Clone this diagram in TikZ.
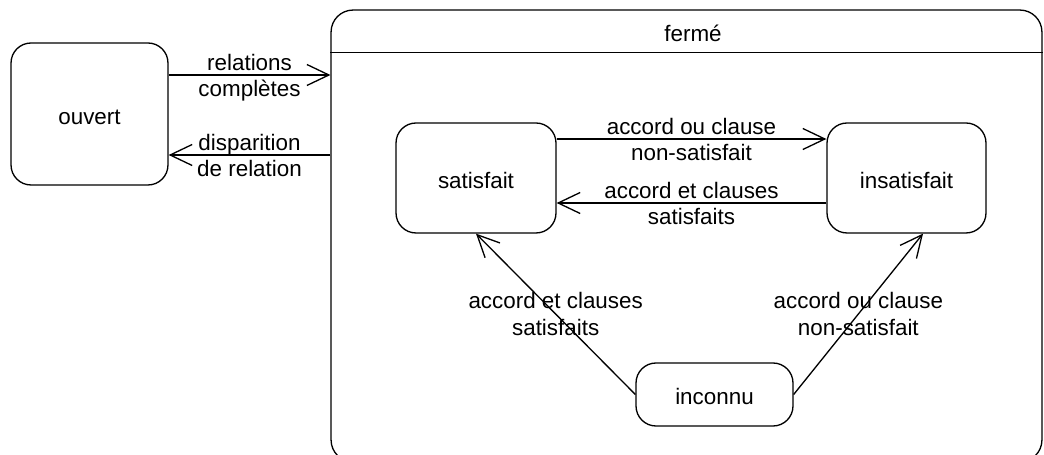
\documentclass[tikz,border=0pt]{standalone}
\usepackage{fontspec}
\setmainfont{Liberation Sans}
\usetikzlibrary{arrows.meta,calc}
\begin{document}
\begin{tikzpicture}[x=0.02cm,y=-0.02cm,line width=0.75pt,
  font=\fontsize{12.75}{15.3}\selectfont,
  state/.style={draw,rounded corners=0.4cm,inner sep=0pt,text height=0.42cm,text depth=0pt},
  arr/.style={-{Straight Barb[length=0.44cm,width=0.42cm]}},
  lbl/.style={align=center,inner sep=0pt},
  labup/.style={anchor=base,inner sep=0pt,yshift=0.09cm},
  labdown/.style={anchor=base,inner sep=0pt,yshift=-0.44cm}]
\useasboundingbox (0,0) rectangle (1044,455);
% etats
\node[state,minimum width=3.14cm,minimum height=2.84cm] (ouvert) at (89.5,114) {ouvert};
\node[draw,rounded corners=0.44cm,inner sep=0pt,minimum width=14.22cm,minimum height=9.04cm] (ferme) at (686.5,236) {};
\node[anchor=base] (titre) at (693,42) {fermé};
\draw ($(ferme.north west)+(0,43)$) -- ($(ferme.north east)+(0,43)$);
\node[state,minimum width=3.2cm,minimum height=2.2cm] (satisfait) at (476,178) {satisfait};
\node[state,minimum width=3.18cm,minimum height=2.2cm] (insatisfait) at (906.5,178) {insatisfait};
\node[state,minimum width=3.14cm,minimum height=1.26cm] (inconnu) at (714.5,394.5) {inconnu};
\coordinate (o1) at ($(ouvert.east)+(0,-39)$);
\coordinate (o2) at ($(ouvert.east)+(0,41)$);
\coordinate (s1) at ($(satisfait.east)+(0,-39)$);
\coordinate (s2) at ($(satisfait.east)+(0,25)$);
\draw[arr] (o1) -- (o1 -| ferme.west)
  node[labup,midway] {relations} node[labdown,midway] {complètes};
\draw[arr] (o2 -| ferme.west) -- (o2)
  node[labup,midway] {disparition} node[labdown,midway] {de relation};
\draw[arr] (s1) -- (s1 -| insatisfait.west)
  node[labup,midway] {accord ou clause} node[labdown,midway] {non-satisfait};
\draw[arr] (s2 -| insatisfait.west) -- (s2)
  node[labup,midway] {accord et clauses} node[labdown,midway] {satisfaits};
\draw[arr] (inconnu.west) -- (satisfait.south)
  node[lbl,midway] {accord et clauses\\satisfaits};
\draw[arr] (inconnu.east) -- ($(insatisfait.south)+(16.5,0)$)
  node[lbl,midway] {accord ou clause\\non-satisfait};
\end{tikzpicture}
\end{document}
